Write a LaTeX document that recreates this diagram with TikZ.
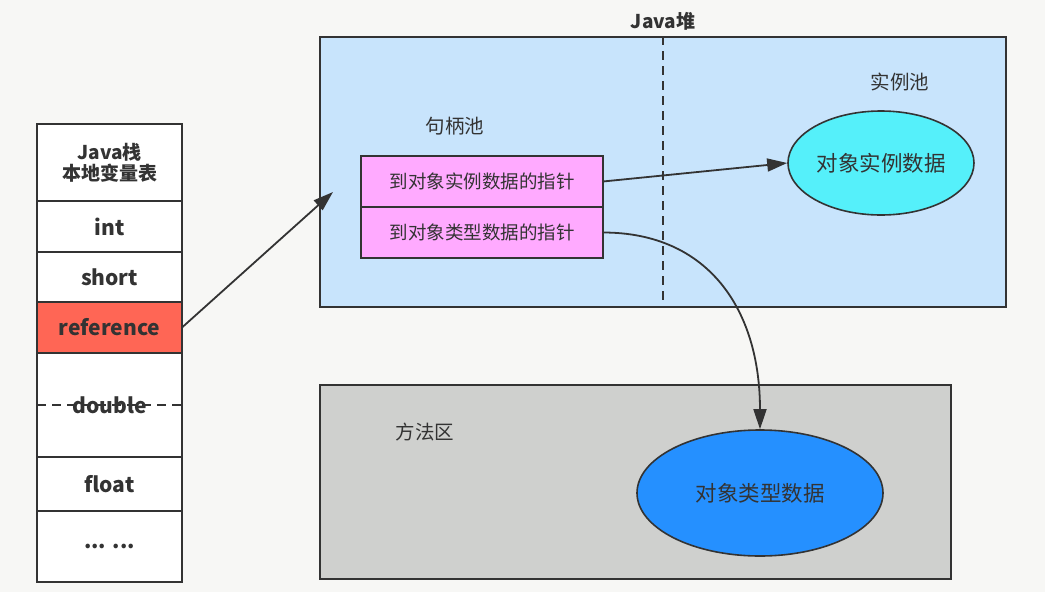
\documentclass[tikz,border=0pt]{standalone}
\usepackage{fontspec}
\setmainfont{Noto Sans CJK SC}
\usepackage{tikz}
\usetikzlibrary{arrows.meta, positioning, shapes.geometric}

\definecolor{bgpaper}{HTML}{F7F7F5}
\definecolor{inkgray}{HTML}{333333}
\definecolor{heapblue}{HTML}{C8E4FC}
\definecolor{methodgray}{HTML}{CFD0CE}
\definecolor{ptrpink}{HTML}{FFAAFF}
\definecolor{instcyan}{HTML}{55F0FA}
\definecolor{typeblue}{HTML}{2590FF}
\definecolor{refred}{HTML}{FF6655}

\tikzset{
  cell/.style={draw=inkgray, line width=1.6pt, fill=white, minimum width=145pt,
    inner sep=0pt, outer sep=0pt, text=inkgray, font=\fontsize{21}{24}\selectfont\bfseries},
  ptrbox/.style={draw=inkgray, line width=1.6pt, fill=ptrpink, minimum width=242pt,
    minimum height=51pt, inner sep=0pt, outer sep=0pt, text=inkgray,
    font=\fontsize{18.5}{20}\selectfont},
  area/.style={draw=inkgray, line width=1.6pt, inner sep=0pt},
  blob/.style={ellipse, draw=inkgray, line width=1.6pt, inner sep=0pt, text=inkgray,
    font=\fontsize{21.5}{24}\selectfont},
  tag/.style={text=inkgray, font=\fontsize{19.5}{22}\selectfont},
  link/.style={draw=inkgray, line width=1.8pt, -{Triangle[length=20pt, width=13pt]}}
}

\begin{document}
\begin{tikzpicture}[x=1pt, y=-1pt]
  \fill[bgpaper] (0,0) rectangle (1045,592);
  \useasboundingbox (0,0) rectangle (1045,592);

  % stack
  \node[cell, minimum height=77pt, align=center, font=\fontsize{19}{22}\selectfont\bfseries] (hdr) at (109.5,162.5) {Java栈\\[-1pt]本地变量表};
  \node[cell, minimum height=51pt, below=0pt of hdr] (int) {int};
  \node[cell, minimum height=50pt, below=0pt of int] (short) {short};
  \node[cell, minimum height=51pt, fill=refred, below=0pt of short] (ref) {reference};
  \node[cell, minimum height=104pt, below=0pt of ref] (dbl) {double};
  \node[cell, minimum height=54pt, below=0pt of dbl] (flt) {float};
  \node[cell, minimum height=71pt, below=0pt of flt] (more) {... ...};
  \draw[inkgray, line width=1.6pt, dash pattern=on 9pt off 6pt] (dbl.west) -- (dbl.east);

  % heap
  \node[area, fill=heapblue, minimum width=686pt, minimum height=270pt] (heap) at (663,172) {};
  \node[tag, font=\fontsize{19}{22}\selectfont\bfseries, above=2pt of heap.north] (heaptag) {Java堆};
  \draw[inkgray, line width=1.6pt, dash pattern=on 9pt off 6pt] (heap.north) -- (heap.south);
  \node[tag] (pooltag) at (455,126) {句柄池};
  \node[tag] (insttag) at (900,82) {实例池};
  \node[ptrbox] (ptr1) at (482,181.5) {到对象实例数据的指针};
  \node[ptrbox, below=0pt of ptr1] (ptr2) {到对象类型数据的指针};
  \node[blob, fill=instcyan, minimum width=186pt, minimum height=104pt] (inst) at (881,163) {对象实例数据};

  % method area
  \node[area, fill=methodgray, minimum width=631pt, minimum height=194pt] (method) at (635.5,482) {};
  \node[tag] (methodtag) at (425,432) {方法区};
  \node[blob, fill=typeblue, minimum width=246pt, minimum height=126pt] (type) at (760,493) {对象类型数据};

  % links
  \coordinate (refend) at (333,192);
  \draw[link] (ref.east) -- (refend);
  \draw[link] (ptr1.east) -- (inst.west);
  \draw[link] (ptr2.east) .. controls +(105,0) and +(0,-120) .. (type.north);
\end{tikzpicture}
\end{document}
